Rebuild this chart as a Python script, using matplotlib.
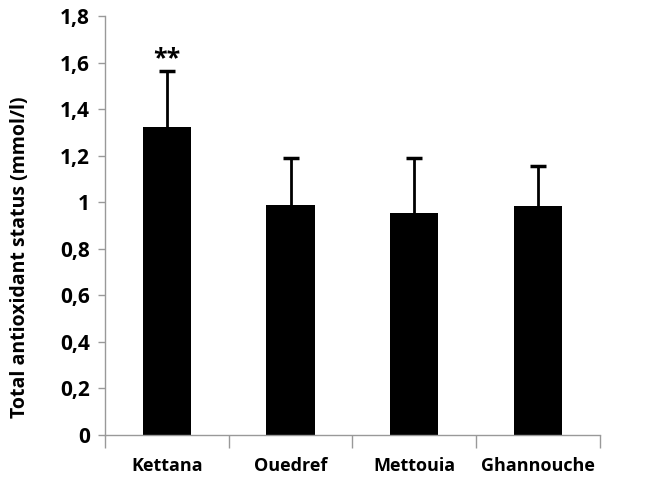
import matplotlib
matplotlib.use("Agg")
import matplotlib.pyplot as plt
import numpy as np

sites = ["Kettana", "Ouedref", "Mettouia", "Ghannouche"]
tas_mean = [1.325, 0.99, 0.953, 0.986]
tas_sd = [0.24, 0.20, 0.236, 0.172]
marks = ["**", "", "", ""]
y_ticks = [0, 0.2, 0.4, 0.6, 0.8, 1.0, 1.2, 1.4, 1.6, 1.8]


def fmt_tick(v):
    if abs(v - round(v)) < 1e-9:
        return str(int(round(v)))
    return "{:.1f}".format(v).replace(".", ",")


plt.rcParams["font.family"] = ["Open Sans", "DejaVu Sans"]
plt.rcParams["font.weight"] = "bold"

fig = plt.figure(figsize=(6.65, 4.79), dpi=100)
ax = fig.add_axes([0.158, 0.092, 0.744, 0.874])

x = np.arange(len(sites))
lower = [0] * len(sites)
ax.bar(x, tas_mean, width=0.39, color="black", zorder=2)
eb = ax.errorbar(x, tas_mean, yerr=[lower, tas_sd], fmt="none", ecolor="black",
                 elinewidth=2, capsize=6, capthick=2.5, zorder=3)
eb[1][0].set_visible(False)
for xi, m, s, t in zip(x, tas_mean, tas_sd, marks):
    if t:
        ax.text(xi, m + s + 0.0, t, ha="center", va="bottom",
                fontsize=18, fontweight="bold")

ax.set_xlim(-0.5, len(sites) - 0.5)
ax.set_ylim(0, 1.8)
ax.set_yticks(y_ticks)
ax.set_yticklabels([fmt_tick(v) for v in y_ticks], fontsize=15, fontweight="bold")
ax.set_xticks(x)
ax.set_xticklabels(sites, fontsize=13, fontweight="bold")
ax.tick_params(axis="x", which="major", length=0, pad=16)
ax.set_xticks(np.arange(len(sites) + 1) - 0.5, minor=True)
ax.tick_params(axis="x", which="minor", length=9, color="#999999", width=1)
ax.tick_params(axis="y", length=5, color="#999999", width=1, pad=6)

for side in ["top", "right"]:
    ax.spines[side].set_visible(False)
for side in ["left", "bottom"]:
    ax.spines[side].set_color("#999999")
    ax.spines[side].set_linewidth(1)

ax.set_ylabel("Total antioxidant status (mmol/l)", fontsize=14,
              fontweight="bold")
ax.yaxis.set_label_coords(-0.152, 0.425)

fig.savefig("out.png", dpi=100)
